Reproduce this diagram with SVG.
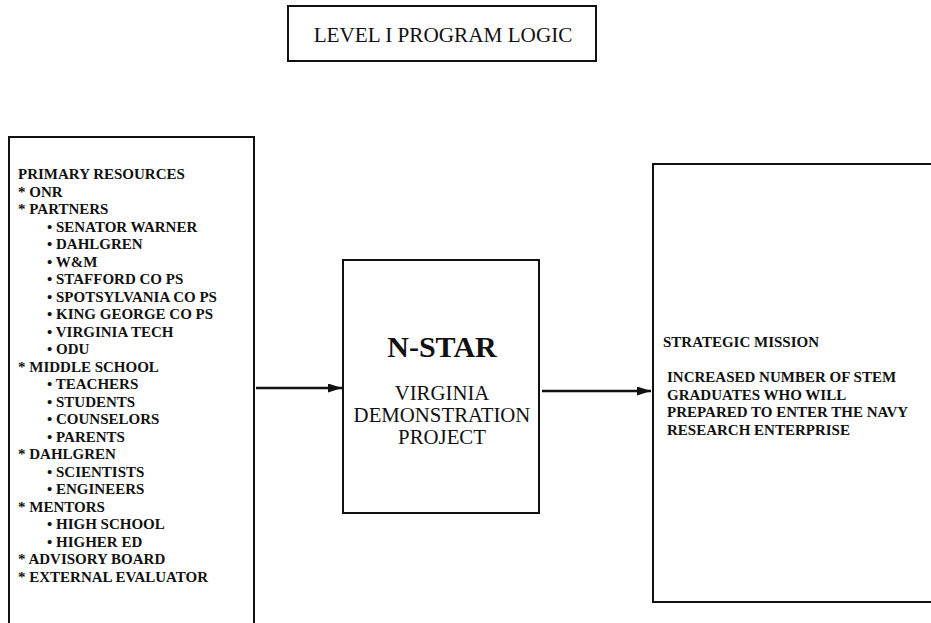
<svg xmlns="http://www.w3.org/2000/svg" width="931" height="623" viewBox="0 0 931 623">
<style>
  .box { fill: #ffffff; stroke: #111; stroke-width: 2; }
  .lst { font-family: 'Liberation Serif', 'DejaVu Serif', serif; font-weight: bold; font-size: 15px; fill: #111; }
  .reg { font-family: 'Liberation Serif', 'DejaVu Serif', serif; fill: #111; }
  .conn { stroke: #111; stroke-width: 2.5; fill: none; }
</style>
<defs>
  <marker id="arr" markerWidth="14" markerHeight="9" refX="14" refY="4.5" orient="auto" markerUnits="userSpaceOnUse">
    <path d="M0,0 L14,4.5 L0,9 Z" fill="#111"/>
  </marker>
</defs>
<rect width="931" height="623" fill="#ffffff"/>

<g id="title">
  <rect class="box" x="288" y="6" width="308" height="55"/>
  <text class="reg" x="443" y="42" font-size="21.2" text-anchor="middle">LEVEL I PROGRAM LOGIC</text>
</g>

<g id="resources">
  <rect class="box" x="9" y="137" width="245" height="500"/>
  <text class="lst" x="18" y="179">PRIMARY RESOURCES</text>
  <text class="lst" x="18" y="196.5">* ONR</text>
  <text class="lst" x="18" y="214">* PARTNERS</text>
  <text class="lst" x="47" y="231.5">• SENATOR WARNER</text>
  <text class="lst" x="47" y="249">• DAHLGREN</text>
  <text class="lst" x="47" y="266.5">• W&amp;M</text>
  <text class="lst" x="47" y="284">• STAFFORD CO PS</text>
  <text class="lst" x="47" y="301.5">• SPOTSYLVANIA CO PS</text>
  <text class="lst" x="47" y="319">• KING GEORGE CO PS</text>
  <text class="lst" x="47" y="336.5">• VIRGINIA TECH</text>
  <text class="lst" x="47" y="354">• ODU</text>
  <text class="lst" x="18" y="371.5">* MIDDLE SCHOOL</text>
  <text class="lst" x="47" y="389">• TEACHERS</text>
  <text class="lst" x="47" y="406.5">• STUDENTS</text>
  <text class="lst" x="47" y="424">• COUNSELORS</text>
  <text class="lst" x="47" y="441.5">• PARENTS</text>
  <text class="lst" x="18" y="459">* DAHLGREN</text>
  <text class="lst" x="47" y="476.5">• SCIENTISTS</text>
  <text class="lst" x="47" y="494">• ENGINEERS</text>
  <text class="lst" x="18" y="511.5">* MENTORS</text>
  <text class="lst" x="47" y="529">• HIGH SCHOOL</text>
  <text class="lst" x="47" y="546.5">• HIGHER ED</text>
  <text class="lst" x="18" y="564">* ADVISORY BOARD</text>
  <text class="lst" x="18" y="581.5">* EXTERNAL EVALUATOR</text>
</g>

<g id="nstar">
  <rect class="box" x="343" y="260" width="196" height="253"/>
  <text class="reg" x="442" y="357" font-size="30" font-weight="bold" text-anchor="middle">N-STAR</text>
  <text class="reg" x="442" y="400" font-size="20.8" text-anchor="middle">VIRGINIA</text>
  <text class="reg" x="442" y="422" font-size="20.8" text-anchor="middle">DEMONSTRATION</text>
  <text class="reg" x="442" y="444" font-size="20.8" text-anchor="middle">PROJECT</text>
</g>

<g id="mission">
  <rect class="box" x="653" y="164" width="300" height="438"/>
  <text class="lst" x="663" y="347">STRATEGIC MISSION</text>
  <text class="lst" x="667" y="382">INCREASED NUMBER OF STEM</text>
  <text class="lst" x="667" y="399.5">GRADUATES WHO WILL</text>
  <text class="lst" x="667" y="417">PREPARED TO ENTER THE NAVY</text>
  <text class="lst" x="667" y="434.5">RESEARCH ENTERPRISE</text>
</g>

<g id="connectors">
  <line class="conn" x1="256" y1="388" x2="342" y2="388" marker-end="url(#arr)"/>
  <line class="conn" x1="542" y1="391" x2="651" y2="391" marker-end="url(#arr)"/>
</g>
</svg>
